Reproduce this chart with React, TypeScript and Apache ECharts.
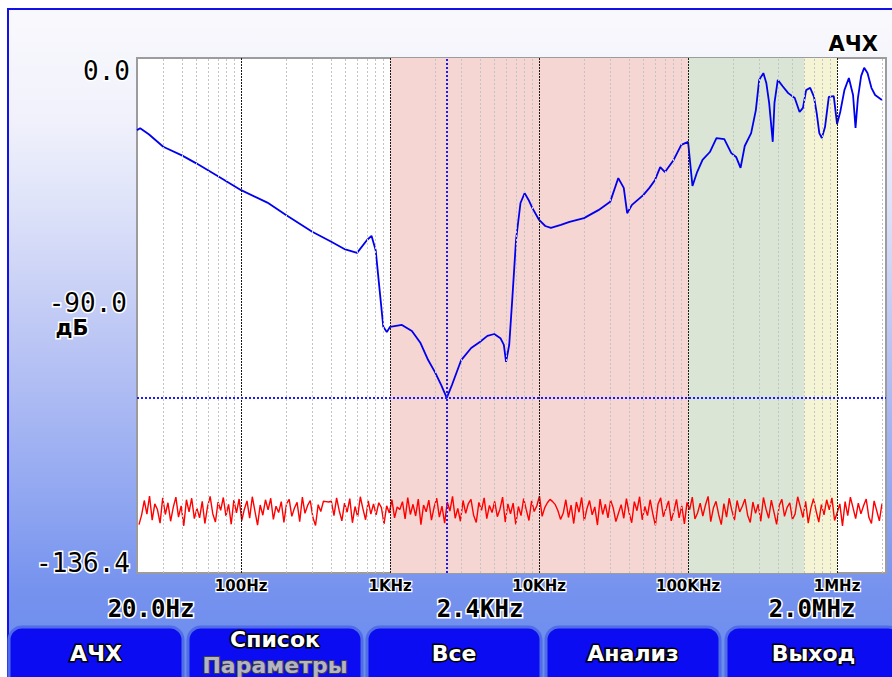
import React, { useEffect, useRef } from "react";
import * as echarts from "echarts";

// Frequency response (blue), Hz and dB
const respFreq = [20, 21, 24, 30, 40, 50, 70, 100, 150, 200, 300, 400, 500, 600, 700, 750, 800, 850, 900, 950, 1000, 1200, 1400, 1600, 1800, 2000, 2200, 2400, 2600, 3000, 3500, 4000, 4500, 5000, 5500, 5800, 6000, 6300, 6600, 7000, 7500, 8000, 8500, 9000, 10000, 11000, 12000, 14000, 16000, 20000, 25000, 30000, 34000, 37000, 39000, 42000, 50000, 55000, 60000, 65000, 70000, 80000, 90000, 100000, 107000, 115000, 125000, 140000, 155000, 175000, 195000, 210000, 225000, 240000, 265000, 285000, 300000, 320000, 335000, 350000, 370000, 380000, 400000, 430000, 470000, 520000, 560000, 590000, 620000, 660000, 700000, 730000, 760000, 790000, 830000, 880000, 950000, 1000000, 1050000, 1120000, 1200000, 1280000, 1330000, 1380000, 1450000, 1520000, 1600000, 1700000, 1800000, 2000000];
const respDb = [-19.1, -18.6, -20.2, -23.5, -25.8, -27.9, -31.3, -35.0, -38.3, -41.6, -46.0, -48.6, -50.7, -51.6, -48.2, -47.1, -50.9, -61.4, -71.2, -72.6, -71.2, -70.7, -72.3, -75.5, -80.0, -83.2, -86.6, -90.0, -86.6, -80.0, -76.8, -75.2, -73.6, -73.1, -74.2, -76.0, -80.5, -76.0, -64.1, -48.2, -38.4, -35.8, -37.6, -39.7, -42.9, -44.5, -45.0, -44.2, -43.4, -42.4, -40.3, -38.1, -31.8, -34.4, -41.1, -38.9, -36.3, -34.4, -32.3, -28.9, -30.2, -27.0, -23.0, -22.2, -33.9, -30.2, -27.0, -24.9, -21.2, -21.5, -25.2, -26.2, -29.1, -23.3, -19.9, -13.8, -5.8, -4.0, -6.6, -11.9, -22.2, -11.9, -5.8, -7.4, -9.3, -10.6, -14.3, -13.2, -8.5, -7.9, -10.3, -14.6, -19.9, -21.2, -18.3, -10.3, -10.1, -17.5, -14.3, -8.5, -5.3, -9.8, -18.5, -10.6, -4.8, -2.6, -4.0, -7.9, -9.8, -11.1];

// Noise floor (red), dB, one value per sweep step
const noiseDb = [
  -123.6, -121.0, -117.2, -120.8, -116.0, -122.4, -118.1, -119.6, -123.2, -116.5, -120.9, -117.8, -122.7, -119.0, -116.3, -121.6, -118.6, -123.9, -117.0, -120.2,
  -116.6, -122.0, -119.3, -121.8, -117.4, -123.3, -118.9, -116.1, -120.7, -122.9, -117.6, -119.8, -116.4, -121.3, -118.2, -123.5, -117.1, -120.5, -116.8, -122.5,
  -119.5, -117.3, -121.9, -116.2, -120.0, -123.7, -118.4, -121.1, -117.0, -119.7, -116.6, -122.2, -118.7, -120.4, -117.5, -123.0, -118.0, -116.9, -121.4, -119.2,
  -117.7, -122.8, -116.3, -120.6, -118.5, -117.2, -121.7, -123.8, -118.3, -120.1, -117.4, -117.5, -117.6, -117.4, -121.2, -116.5, -119.9, -122.6, -117.9, -120.3,
  -116.7, -123.1, -118.8, -121.5, -116.2, -119.4, -122.3, -117.3, -120.8, -118.1, -121.0, -117.8, -119.1, -123.4, -118.6, -120.5, -117.0, -121.8, -118.9, -119.6,
  -117.5, -122.1, -116.4, -120.9, -118.2, -121.3, -116.8, -123.6, -118.4, -120.2, -117.1, -122.4, -119.0, -116.6, -121.6, -118.7, -123.2, -117.6, -120.0, -116.1,
  -121.9, -119.3, -122.7, -117.2, -120.6, -118.0, -116.9, -121.1, -123.0, -117.7, -119.8, -116.5, -122.0, -118.5, -120.4, -117.4, -121.5, -119.5, -116.3, -122.9,
  -118.1, -120.7, -117.9, -123.5, -118.8, -121.2, -116.7, -119.7, -122.5, -117.3, -120.1, -118.6, -116.0, -121.4, -119.1, -117.8, -116.9, -117.5, -118.3, -119.9,
  -122.2, -120.6, -117.0, -121.7, -118.4, -123.3, -117.6, -120.3, -116.4, -122.6, -119.4, -117.2, -121.0, -118.9, -123.7, -116.8, -120.9, -118.2, -121.8, -117.1,
  -119.2, -122.8, -120.5, -118.3, -121.9, -116.7, -120.4, -123.1, -117.5, -119.9, -116.2, -122.3, -118.8, -121.2, -117.0, -120.7, -123.8, -118.1, -116.5, -121.5,
  -119.4, -117.3, -122.6, -120.1, -116.9, -121.8, -118.6, -123.4, -117.7, -119.6, -116.3, -122.1, -120.5, -117.9, -121.3, -118.4, -116.1, -122.8, -119.2, -117.4,
  -120.9, -123.6, -118.0, -121.6, -116.6, -119.8, -122.4, -117.2, -120.2, -118.7, -116.8, -121.1, -123.0, -117.6, -120.6, -118.2, -122.7, -116.4, -119.5, -121.9,
  -117.1, -120.3, -123.5, -118.5, -116.9, -121.4, -119.0, -117.8, -122.2, -120.8, -116.2, -118.9, -121.7, -117.4, -123.2, -119.3, -116.7, -120.0, -122.9, -118.3,
  -121.0, -117.0, -119.7, -116.5, -122.5, -120.4, -118.1, -123.9, -117.5, -121.2, -116.3, -119.1, -122.0, -117.9, -120.7, -118.6, -116.8, -121.6, -123.3, -117.3,
  -119.9, -122.6, -118.0,
];

// Axis / cursor
const freqMin = 20;
const freqMax = 2130000;
const dbMin = -136.4;
const dbMax = 0;
const decadeTicks = [100, 1000, 10000, 100000, 1000000];
const decadeLabels = ["100Hz", "1KHz", "10KHz", "100KHz", "1MHz"];
const minorGrid = [30, 40, 50, 60, 70, 80, 90, 200, 300, 400, 500, 600, 700, 800, 900, 2000, 3000, 4000, 5000, 6000, 7000, 8000, 9000, 20000, 30000, 40000, 50000, 60000, 70000, 80000, 90000, 200000, 300000, 400000, 500000, 600000, 700000, 800000, 900000, 2000000];
const bands = [
  { from: 1000, to: 100000, color: "#f6d6d2" },
  { from: 100000, to: 600000, color: "#dbe5d6" },
  { from: 600000, to: 1000000, color: "#f5f4d4" },
];
const cursorFreq = 2400;
const cursorDb = -90;
const buttons = [
  { x: 9, w: 174, label: "АЧХ", sub: "" },
  { x: 188, w: 174, label: "Список", sub: "Параметры" },
  { x: 367, w: 174, label: "Все", sub: "" },
  { x: 546, w: 174, label: "Анализ", sub: "" },
  { x: 726, w: 175, label: "Выход", sub: "" },
];

const monoFont = "'DejaVu Sans Mono', monospace";
const sansBold = "bold 22px 'DejaVu Sans', sans-serif";

function outlinedText(x: number, y: number, text: string, font: string, align: string, fill = "#000", stroke = "#fff", lw = 3, lineHeight = 20) {
  return {
    type: "text",
    x,
    y,
    z: 20,
    style: {
      text,
      font,
      fill,
      stroke,
      lineWidth: lw,
      strokeFirst: true,
      align,
      verticalAlign: "middle",
      lineHeight,
    },
  };
}

export default function App() {
  const ref = useRef<HTMLDivElement>(null);

  useEffect(() => {
    if (!ref.current) return;
    const chart = echarts.init(ref.current, null, { renderer: "svg" });

    const respData = respFreq.map((f, i) => [f, respDb[i]]);

    const graphics: any[] = [];
    buttons.forEach((b) => {
      graphics.push({
        type: "rect",
        z: 10,
        shape: { x: b.x, y: 627, width: b.w, height: 62, r: 13 },
        style: { fill: "#0c0cf2", stroke: "#4f6de6", lineWidth: 3 },
      });
      const cx = b.x + b.w / 2;
      if (b.sub) {
        graphics.push(outlinedText(cx, 639, b.label, sansBold, "center", "#ffffff", "#000000", 3));
        graphics.push(outlinedText(cx, 665, b.sub, sansBold, "center", "#b4b4c4", "#3c3c50", 2));
      } else {
        graphics.push(outlinedText(cx, 653, b.label, sansBold, "center", "#ffffff", "#000000", 3));
      }
    });
    graphics.push(outlinedText(130, 71, dbMax.toFixed(1), `26px ${monoFont}`, "right"));
    graphics.push(outlinedText(127, 303, cursorDb.toFixed(1), `26px ${monoFont}`, "right"));
    graphics.push(outlinedText(72, 328, "дБ", "bold 21px 'DejaVu Sans', sans-serif", "center"));
    graphics.push(outlinedText(130, 563, dbMin.toFixed(1), `26px ${monoFont}`, "right"));
    graphics.push(outlinedText(878, 44, "АЧХ", "bold 21px 'DejaVu Sans', sans-serif", "right"));
    graphics.push(outlinedText(151, 609, "20.0Hz", `bold 24px ${monoFont}`, "center"));
    graphics.push(outlinedText(480, 609, "2.4KHz", `bold 24px ${monoFont}`, "center"));
    graphics.push(outlinedText(812, 609, "2.0MHz", `bold 24px ${monoFont}`, "center"));

    const option: any = {
      animation: false,
      backgroundColor: "transparent",
      grid: [
        { left: 137, right: 6, top: 58, bottom: 104, show: true, backgroundColor: "#ffffff", borderColor: "#9c9c9c", borderWidth: 2 },
        { left: 139, right: 10, top: 58, bottom: 104 },
      ],
      xAxis: [
        {
          type: "log",
          logBase: 10,
          min: freqMin,
          max: freqMax,
          splitNumber: 5,
          gridIndex: 0,
          axisLine: { show: false },
          axisTick: { show: false },
          splitLine: { show: false },
          axisLabel: {
            show: true,
            showMinLabel: false,
            showMaxLabel: false,
            margin: 6,
            color: "#000",
            fontFamily: "'DejaVu Sans', sans-serif",
            fontWeight: "bold",
            fontSize: 15,
            lineHeight: 14,
            textBorderColor: "#ffffff",
            textBorderWidth: 2.5,
            formatter: (v: number) => {
              const i = decadeTicks.findIndex((t) => Math.abs(v - t) / t < 1e-6);
              return i >= 0 ? decadeLabels[i] : "";
            },
          },
        },
        {
          type: "category",
          gridIndex: 1,
          boundaryGap: false,
          show: false,
        },
      ],
      yAxis: [
        { type: "value", min: dbMin, max: dbMax, gridIndex: 0, show: false, splitLine: { show: false } },
        { type: "value", min: dbMin, max: dbMax, gridIndex: 1, show: false, splitLine: { show: false } },
      ],
      graphic: graphics,
      series: [
        {
          type: "line",
          xAxisIndex: 0,
          yAxisIndex: 0,
          data: [],
          z: 1,
          silent: true,
          markArea: {
            silent: true,
            data: bands.map((b) => [
              { xAxis: b.from, itemStyle: { color: b.color } },
              { xAxis: b.to },
            ]),
          },
          markLine: {
            silent: true,
            symbol: "none",
            label: { show: false },
            data: [
              ...minorGrid.map((f) => ({
                xAxis: f,
                lineStyle: { color: "#c4c4c4", width: 1, type: [2, 2] },
              })),
              ...decadeTicks.map((f) => ({
                xAxis: f,
                lineStyle: { color: "#1a1a1a", width: 1, type: [2, 1] },
              })),
            ],
          },
        },
        {
          type: "line",
          xAxisIndex: 1,
          yAxisIndex: 1,
          data: noiseDb,
          z: 3,
          symbol: "none",
          silent: true,
          lineStyle: { color: "#ff0000", width: 1.4 },
        },
        {
          type: "line",
          xAxisIndex: 0,
          yAxisIndex: 0,
          data: respData,
          z: 4,
          symbol: "none",
          silent: true,
          lineStyle: { color: "#0000ee", width: 1.8 },
          markLine: {
            silent: true,
            symbol: "none",
            label: { show: false },
            lineStyle: { color: "#1a1aff", width: 2, type: [2, 2] },
            data: [{ xAxis: cursorFreq }, { yAxis: cursorDb }],
          },
        },
      ],
    };

    chart.setOption(option);
    return () => chart.dispose();
  }, []);

  return (
    <div style={{ position: "fixed", left: 0, top: 0, width: 892, height: 677, background: "#ffffff", overflow: "hidden" }}>
      <div
        style={{
          position: "absolute",
          left: 7,
          top: 8,
          width: 885,
          height: 669,
          boxSizing: "border-box",
          borderLeft: "2px solid #1212e8",
          borderTop: "2px solid #1212e8",
          background:
            "linear-gradient(to bottom, #f9f9fd 0px, #f0f1fb 110px, #dde2f9 200px, #c3ccf5 300px, #a9b8f3 400px, #8aa2f0 510px, #7592ee 580px, #6c8bee 669px)",
        }}
      />
      <div ref={ref} style={{ position: "absolute", left: 0, top: 0, width: 892, height: 677 }} />
    </div>
  );
}
